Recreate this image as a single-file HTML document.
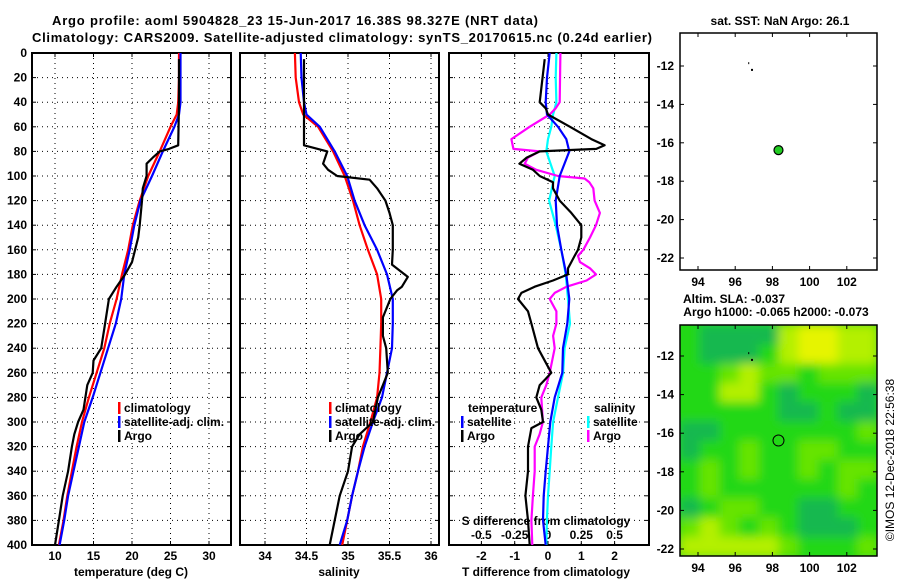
<!DOCTYPE html>
<html><head><meta charset="utf-8"><style>
html,body{margin:0;padding:0;background:#fff;}
svg{display:block;font-family:"Liberation Sans",sans-serif;font-weight:bold;}
</style></head><body>
<svg id="c" width="900" height="580" viewBox="0 0 900 580" xmlns="http://www.w3.org/2000/svg">
<defs>
<clipPath id="cp1"><rect x="32" y="53" width="199" height="492"/></clipPath>
<clipPath id="cp2"><rect x="240" y="53" width="199" height="492"/></clipPath>
<clipPath id="cp3"><rect x="449" y="53" width="200" height="492"/></clipPath>
<clipPath id="cpm"><rect x="680" y="325" width="197" height="231"/></clipPath>
<filter id="bl" x="-10%" y="-10%" width="120%" height="120%"><feGaussianBlur stdDeviation="5"/></filter>
</defs>
<text x="52" y="25" font-size="13" textLength="486">Argo profile: aoml 5904828_23 15-Jun-2017 16.38S 98.327E (NRT data)</text>
<text x="32" y="42" font-size="13" textLength="620">Climatology: CARS2009. Satellite-adjusted climatology: synTS_20170615.nc (0.24d earlier)</text>
<g id="g"></g>
</svg>
<script>
// ---- data ----
const tempClimDepth=[0,20,40,50,60,80,100,120,140,160,180,200,220,240,260,280,300,320,340,360,380,400];
const tempClim=[26.1,26.1,26.0,25.8,25.0,23.6,22.1,21.0,20.1,19.5,18.7,18.0,17.1,16.4,15.4,14.4,13.5,12.8,12.2,11.6,11.1,10.5];
const tempSat=[26.3,26.3,26.3,26.1,25.5,24.0,22.6,21.1,20.3,19.7,19.0,18.6,17.9,16.9,15.9,14.9,13.8,13.1,12.4,11.7,11.2,10.6];
const argoTempDepth=[5,40,75,78,80,85,90,100,110,120,140,150,160,170,180,190,200,220,240,250,260,270,290,300,310,320,340,360,380,400];
const argoTemp=[26.1,26.1,26.0,24.8,23.6,22.7,21.9,21.9,21.4,21.3,21.0,20.8,20.4,20.0,19.1,18.0,17.0,16.5,16.0,15.0,14.9,14.2,13.7,13.0,12.5,12.2,11.7,11.0,10.5,10.0];
const salClim=[34.36,34.37,34.41,34.46,34.64,34.82,34.96,35.06,35.14,35.24,35.35,35.40,35.40,35.39,35.38,35.35,35.27,35.18,35.12,35.05,34.99,34.93];
const salSat=[34.43,34.44,34.47,34.50,34.66,34.84,34.99,35.08,35.20,35.35,35.47,35.54,35.54,35.53,35.47,35.41,35.30,35.20,35.12,35.05,34.99,34.90];
const argoSalDepth=[5,40,75,77,80,90,95,100,103,110,120,130,140,160,172,182,190,193,200,215,230,240,260,270,280,300,310,320,340,360,380,400];
const argoSal=[34.47,34.47,34.47,34.58,34.75,34.70,34.76,34.87,35.26,35.35,35.45,35.50,35.54,35.54,35.53,35.72,35.65,35.59,35.51,35.42,35.42,35.46,35.48,35.42,35.36,35.30,35.14,35.05,35.00,34.90,34.84,34.78];
const diffDepth=[0,20,40,50,60,70,80,100,120,140,160,180,200,220,240,260,280,300,320,340,360,380,400];
const tDiffSat=[0.05,-0.03,-0.07,-0.03,0.3,0.55,0.64,0.35,0.23,0.27,0.4,0.55,0.64,0.58,0.45,0.43,0.2,0.07,0,-0.07,-0.13,-0.15,-0.07];
const sDiffSat=[0.063,0.058,0.063,0.038,0.025,0.0,-0.013,0.05,0.008,0.058,0.1,0.133,0.15,0.165,0.125,0.113,0.075,0.038,0.025,0.013,0,-0.008,-0.013];
const argoDiffDepth=[5,40,45,50,60,70,75,78,80,85,90,95,100,105,110,120,130,140,150,160,165,170,175,180,185,190,195,200,210,220,240,260,265,270,280,290,300,305,320,340,360,380,400];
const tDiffArgo=[-0.1,-0.25,-0.07,0,0.66,1.3,1.7,1.45,-0.25,-0.64,-0.86,-0.45,-0.25,0.15,0.15,0.35,0.7,1.0,1.0,0.9,0.8,0.7,0.6,0.6,0.15,-0.4,-0.8,-0.9,-0.6,-0.5,-0.3,0.1,-0.07,-0.25,-0.35,-0.2,-0.15,-0.5,-0.6,-0.6,-0.68,-0.6,-0.55];
const sDiffArgoDepth=[0,40,45,50,60,70,78,80,85,90,95,100,102,105,110,120,130,140,150,160,165,170,175,180,185,190,195,200,210,220,230,240,260,270,280,300,310,320,340,360,380,400];
const sDiffArgo=[0.093,0.088,0.058,0.013,-0.138,-0.275,-0.26,-0.063,-0.15,-0.175,-0.088,0.075,0.275,0.31,0.34,0.35,0.39,0.36,0.315,0.265,0.225,0.24,0.315,0.36,0.29,0.14,0.05,0.013,0.063,0.063,0.038,0.05,0.013,-0.013,-0.05,-0.038,-0.063,-0.1,-0.1,-0.113,-0.125,-0.118];
const depthTicks=[0,20,40,60,80,100,120,140,160,180,200,220,240,260,280,300,320,340,360,380,400];
const tTicks=[10,15,20,25,30];
const sTicks=[34,34.5,35,35.5,36];
const dtTicks=[-2,-1,0,1,2];
const dsTickLabels=["-0.5","-0.25","0","0.25","0.5"];
const dsTicks=[-0.5,-0.25,0,0.25,0.5];
const lonTicks=[94,96,98,100,102];
const latTicks=[-12,-14,-16,-18,-20,-22];
const argoLon=98.327, argoLat=-16.38;
const slaGrid=[
[1,0,0,0,0,3,4,4,3,3],
[1,0,0,0,1,3,4,4,3,3],
[1,1,2,3,2,2,1,2,2,2],
[1,1,3,3,1,0,1,1,1,0],
[1,1,1,1,1,0,0,1,0,0],
[0,0,1,1,1,1,1,1,1,2],
[0,1,1,2,1,1,2,2,1,1],
[1,2,1,2,1,1,2,1,2,2],
[1,2,1,1,1,1,1,1,2,1],
[0,1,2,2,1,1,0,0,1,1],
[2,3,2,1,2,1,0,0,0,1],
[3,3,3,3,3,2,1,1,1,2]];
const slaColors=["#12b850","#22d818","#66e400","#b4f000","#e6f400"];
// ---- axes ----
const yD=d=>53+d*1.23;
const xT=t=>55+(t-10)*7.7;
const xS=s=>265+(s-34)*83;
const xDT=t=>548+t*33.3;
const xDS=s=>548+s*133.2;
const mX=l=>698+(l-94)*18.6;
const tY=l=>66+(-12-l)*19.2;
const bY=l=>356+(-12-l)*19.3;
const NS="http://www.w3.org/2000/svg";
const G=document.getElementById('g');
function el(tag,attrs,parent){const e=document.createElementNS(NS,tag);for(const k in attrs)e.setAttribute(k,attrs[k]);(parent||G).appendChild(e);return e;}
function txt(x,y,s,anchor,size,name){const t=el('text',{x:x,y:y,'font-size':size||12,'text-anchor':anchor||'middle'});t.textContent=s;


return t;}
function panel(x0,w,xTicksPx,clip,name){
  const g=el('g',{});
  
  
  depthTicks.forEach(d=>{const y=yD(d);el('line',{x1:x0,x2:x0+w,y1:y,y2:y,stroke:'#000','stroke-width':1,'stroke-dasharray':'1,4'},g);
    el('line',{x1:x0,x2:x0+4,y1:y,y2:y,stroke:'#000'},g);el('line',{x1:x0+w-4,x2:x0+w,y1:y,y2:y,stroke:'#000'},g);});
  xTicksPx.forEach(x=>{el('line',{x1:x,x2:x,y1:53,y2:545,stroke:'#000','stroke-width':1,'stroke-dasharray':'1,4'},g);
    el('line',{x1:x,x2:x,y1:545,y2:541,stroke:'#000'},g);el('line',{x1:x,x2:x,y1:53,y2:57,stroke:'#000'},g);});
  el('rect',{x:x0,y:53,width:w,height:492,fill:'none',stroke:'#000','stroke-width':2},g);
  return g;
}
function line(xs,ds,fx,color,clip,name){
  const pts=xs.map((v,i)=>fx(v).toFixed(1)+','+yD(ds[i]).toFixed(1)).join(' ');
  const p=el('polyline',{points:pts,fill:'none',stroke:color,'stroke-width':2.2,'clip-path':'url(#'+clip+')','stroke-linejoin':'round'});
  
  
}
function legItem(x,y,color,label,name){
  el('rect',{x:x,y:y-10,width:2.5,height:12,fill:color});
  txt(x+6,y,label,'start',12,name);
}
// panel 1
panel(32,199,tTicks.map(xT),'cp1','temperature-panel');
depthTicks.forEach(d=>txt(27,yD(d)+4,String(d),'end',12,'depth-tick-label'));
tTicks.forEach(t=>txt(xT(t),560,String(t),'middle',12,'temperature-tick-label'));
txt(131,576,'temperature (deg C)','middle',12,'temperature-axis-title');
line(tempClim,tempClimDepth,xT,'#f00','cp1','temperature-climatology-line');
line(tempSat,tempClimDepth,xT,'#00f','cp1','temperature-satellite-line');
line(argoTemp,argoTempDepth,xT,'#000','cp1','temperature-argo-line');
legItem(118,412,'#f00','climatology','legend-climatology');
legItem(118,426,'#00f','satellite-adj. clim.','legend-satellite-adj');
legItem(118,440,'#000','Argo','legend-argo');
// panel 2
panel(240,199,sTicks.map(xS),'cp2','salinity-panel');
sTicks.forEach(s=>txt(xS(s),560,String(s),'middle',12,'salinity-tick-label'));
txt(339,576,'salinity','middle',12,'salinity-axis-title');
line(salClim,tempClimDepth,xS,'#f00','cp2','salinity-climatology-line');
line(salSat,tempClimDepth,xS,'#00f','cp2','salinity-satellite-line');
line(argoSal,argoSalDepth,xS,'#000','cp2','salinity-argo-line');
legItem(329,412,'#f00','climatology','legend-climatology-2');
legItem(329,426,'#00f','satellite-adj. clim.','legend-satellite-adj-2');
legItem(329,440,'#000','Argo','legend-argo-2');
// panel 3
panel(449,200,dtTicks.map(xDT),'cp3','difference-panel');
dtTicks.forEach(t=>txt(xDT(t),560,String(t),'middle',12,'t-diff-tick-label'));
dsTicks.forEach((s,i)=>txt(xDS(s),539,dsTickLabels[i],'middle',12,'s-diff-tick-label'));
txt(546,525,'S difference from climatology','middle',12,'s-diff-axis-title');
txt(546,576,'T difference from climatology','middle',12,'t-diff-axis-title');
line(sDiffSat,diffDepth,xDS,'#0ff','cp3','salinity-satellite-diff-line');
line(sDiffArgo,sDiffArgoDepth,xDS,'#f0f','cp3','salinity-argo-diff-line');
line(tDiffSat,diffDepth,xDT,'#00f','cp3','temperature-satellite-diff-line');
line(tDiffArgo,argoDiffDepth,xDT,'#000','cp3','temperature-argo-diff-line');
txt(468,412,'temperature','start',12,'legend-temperature-header');
legItem(461,426,'#00f','satellite','legend-t-satellite');
legItem(461,440,'#000','Argo','legend-t-argo');
txt(594,412,'salinity','start',12,'legend-salinity-header');
legItem(587,426,'#0ff','satellite','legend-s-satellite');
legItem(587,440,'#f0f','Argo','legend-s-argo');
// maps
function mapFrame(y0,h,fy,name){
  const g=el('g',{});
  
  
  el('rect',{x:680,y:y0,width:197,height:h,fill:'none',stroke:'#000','stroke-width':1.5},g);
  lonTicks.forEach(l=>{const x=mX(l);el('line',{x1:x,x2:x,y1:y0,y2:y0+4,stroke:'#000'},g);el('line',{x1:x,x2:x,y1:y0+h,y2:y0+h-4,stroke:'#000'},g);
    txt(x,y0+h+16,String(l),'middle',12,'longitude-tick-label');});
  latTicks.forEach(l=>{const y=fy(l);el('line',{x1:680,x2:684,y1:y,y2:y,stroke:'#000'},g);el('line',{x1:873,x2:877,y1:y,y2:y,stroke:'#000'},g);
    txt(674,y+4,String(l),'end',12,'latitude-tick-label');});
}
// top map
txt(780,25,'sat. SST: NaN Argo: 26.1','middle',12,'sst-map-title');
mapFrame(33,237,tY,'sst-map');
el('rect',{x:mX(96.7),y:tY(-11.8),width:1,height:2,fill:'#000'});
el('rect',{x:mX(96.85),y:tY(-12.15),width:2,height:2,fill:'#000'});
const dot=el('circle',{cx:mX(argoLon),cy:tY(argoLat),r:4.5,fill:'#2c2',stroke:'#000','stroke-width':1.2});


// bottom map
txt(734,303,'Altim. SLA: -0.037','middle',12,'sla-map-title');
txt(776,316,'Argo h1000: -0.065 h2000: -0.073','middle',12,'sla-map-subtitle');
const hm=el('g',{'clip-path':'url(#cpm)'});


const hb=el('g',{filter:'url(#bl)'},hm);
el('rect',{x:670,y:315,width:220,height:250,fill:slaColors[1]},hb);
const cw=197/10, ch=231/12;
slaGrid.forEach((row,r)=>row.forEach((v,c)=>{
  const cell=el('rect',{x:680+c*cw,y:325+r*ch,width:cw+0.5,height:ch+0.5,fill:slaColors[v]},hb);
  
  
}));
mapFrame(325,231,bY,'sla-map');
el('rect',{x:mX(96.7),y:bY(-11.8),width:1,height:2,fill:'#000'});
el('rect',{x:mX(96.85),y:bY(-12.15),width:2,height:2,fill:'#000'});
const ring=el('circle',{cx:mX(argoLon),cy:bY(argoLat),r:5.5,fill:'none',stroke:'#000','stroke-width':1});


const cr=txt(0,0,'©IMOS 12-Dec-2018 22:56:38','middle',12,'imos-credit');
cr.setAttribute('font-weight','normal');
cr.setAttribute('transform','translate(894,460) rotate(-90)');
</script>
</body></html>
